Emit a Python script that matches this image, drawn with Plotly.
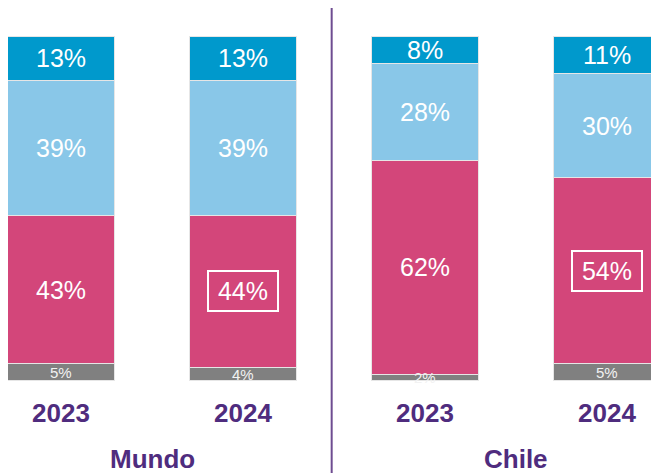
import plotly.graph_objects as go

groups = ["Mundo", "Mundo", "Chile", "Chile"]
years = ["2023", "2024", "2023", "2024"]
group_names = ["Mundo", "Chile"]
seg_gray = [5, 4, 2, 5]
seg_magenta = [43, 44, 62, 54]
seg_lightblue = [39, 39, 28, 30]
seg_blue = [13, 13, 8, 11]
boxed = [False, True, False, True]  # magenta label boxed

colors = {"gray": "#808080", "magenta": "#D3467A", "lightblue": "#89C7E8", "blue": "#0099CC"}
series = [("gray", seg_gray), ("magenta", seg_magenta), ("lightblue", seg_lightblue), ("blue", seg_blue)]

xs = list(range(len(years)))
FONT = "Arial, Liberation Sans, sans-serif"
PURPLE = "#4F2C7E"

fig = go.Figure()
for name, vals in series:
    fig.add_trace(go.Bar(x=xs, y=vals, name=name, width=0.588,
                         marker=dict(color=colors[name], line=dict(color="#E6E6E6", width=1)),
                         hoverinfo="skip"))

annotations = []
for i in xs:
    base = 0
    for name, vals in series:
        v = vals[i]
        mid = base + v / 2
        small = name == "gray"
        ann = dict(x=i, y=mid, xref="x", yref="y", text=f"{v}%", showarrow=False,
                   font=dict(family=FONT, size=15 if small else 25, color="#FFFFFF" if not small else "#F2F2F2"),
                   xanchor="center", yanchor="middle")
        if name == "magenta" and boxed[i]:
            ann.update(bordercolor="#FFFFFF", borderwidth=2, borderpad=1, width=66, height=36)
        annotations.append(ann)
        base += v
    annotations.append(dict(x=i, y=-9.4, xref="x", yref="y", text=f"<b>{years[i]}</b>", showarrow=False,
                            font=dict(family=FONT, size=26, color=PURPLE), xanchor="center", yanchor="middle"))

for gi, g in enumerate(group_names):
    idx = [i for i in xs if groups[i] == g]
    cx = sum(idx) / len(idx)
    annotations.append(dict(x=cx, y=-22.5, xref="x", yref="y", text=f"<b>{g}</b>", showarrow=False,
                            font=dict(family=FONT, size=26, color=PURPLE), xanchor="center", yanchor="middle"))

fig.update_layout(
    barmode="stack",
    width=651, height=465,
    margin=dict(l=0, r=0, t=0, b=0),
    paper_bgcolor="white", plot_bgcolor="white",
    showlegend=False,
    xaxis=dict(range=[-0.2912, 3.2857], visible=False, fixedrange=True),
    yaxis=dict(range=[-26.67, 108.116], visible=False, fixedrange=True),
    annotations=annotations,
    shapes=[dict(type="line", xref="paper", yref="paper", x0=0.4972, x1=0.4972, y0=0, y1=1,
                 line=dict(color="#6E4C91", width=2))],
)

fig.write_html("out.html", config={"displayModeBar": False})
